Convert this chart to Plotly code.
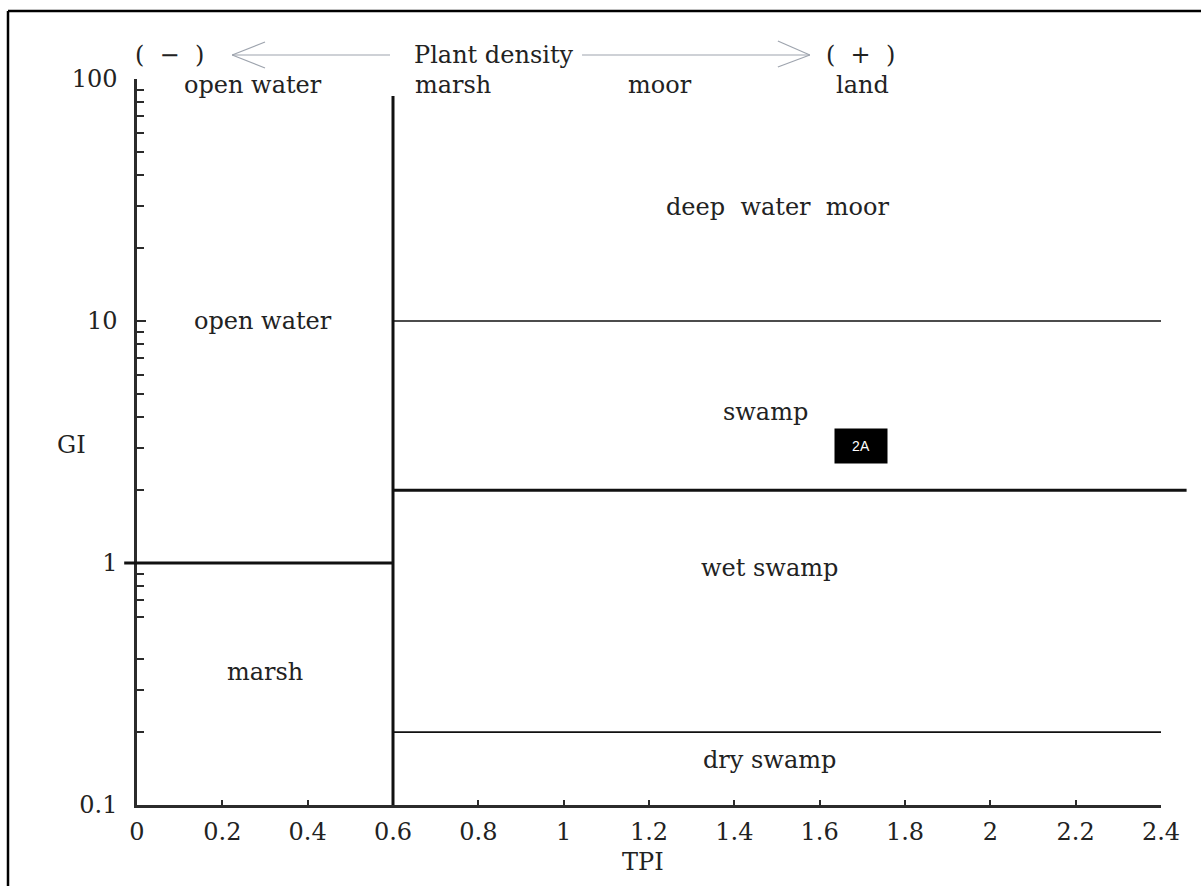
import math
import plotly.graph_objects as go

# ---------------- data ----------------
X_RANGE = [0, 2.4]
Y_RANGE_GI = [0.1, 100]
x_tickvals = [0, 0.2, 0.4, 0.6, 0.8, 1.0, 1.2, 1.4, 1.6, 1.8, 2.0, 2.2, 2.4]
x_ticktext = ["0", "0.2", "0.4", "0.6", "0.8", "1", "1.2", "1.4", "1.6", "1.8", "2", "2.2", "2.4"]
y_tickvals = [0.1, 1, 10, 100]
y_ticktext = ["0.1", "1", "10", "100"]
y_minor = [0.2, 0.3, 0.4, 0.6, 0.7, 0.8, 0.9,
           2, 3, 4, 5, 6, 7, 8, 9,
           20, 30, 40, 50, 60, 70, 80, 90]

# boundary lines: (tpi_start, tpi_end, gi_start, gi_end, weight)
boundary_tpi0 = [0.6, -0.03, 0.6, 0.6, 0.6]
boundary_tpi1 = [0.6, 0.6, 2.4, 2.46, 2.4]
boundary_gi0 = [0.1, 1, 10, 2, 0.2]
boundary_gi1 = [85, 1, 10, 2, 0.2]
boundary_w = [3, 3, 1.6, 3, 1.6]

# region labels (TPI, GI)
region_text = ["deep  water  moor", "open water", "swamp", "wet swamp", "marsh", "dry swamp"]
region_tpi = [1.5, 0.295, 1.474, 1.483, 0.3, 1.483]
region_gi = [29.6, 10.0, 4.2, 0.95, 0.355, 0.153]

# header labels (TPI, GI above the axis)
header_text = ["open water", "marsh", "moor", "land"]
header_tpi = [0.272, 0.647, 1.226, 1.70]
header_anchor = ["center", "left", "center", "center"]
header_gi = 94.4

FONT = "DejaVu Serif"
FS = 24
TXT = "#222222"
AX = "#2b2b2b"

W, H = 1201, 886
ML, MR, MT, MB = 137, 40, 79, 81
PW, PH = W - ML - MR, H - MT - MB


def px_x(p):
    return (p - ML) / PW


def px_y(p):
    return (H - MB - p) / PH


def tpi_paper(v):
    return (v - X_RANGE[0]) / (X_RANGE[1] - X_RANGE[0])


fig = go.Figure()
# invisible trace to establish axes
fig.add_trace(go.Scatter(x=X_RANGE, y=Y_RANGE_GI, mode="markers",
                         marker=dict(opacity=0), hoverinfo="skip", showlegend=False))

shapes = []
for t0, t1, g0, g1, w in zip(boundary_tpi0, boundary_tpi1, boundary_gi0, boundary_gi1, boundary_w):
    shapes.append(dict(type="line", xref="paper", yref="y",
                       x0=tpi_paper(t0), x1=tpi_paper(t1), y0=g0, y1=g1,
                       line=dict(color="#111111", width=w), layer="above"))

# plant density arrows
ARC = "#9ea4ae"
ay = px_y(55)
shapes += [
    dict(type="line", xref="x", yref="paper", x0=0.223, x1=0.593, y0=ay, y1=ay, line=dict(color=ARC, width=1.2)),
    dict(type="line", xref="x", yref="paper", x0=0.223, x1=0.300, y0=ay, y1=px_y(42), line=dict(color=ARC, width=1.2)),
    dict(type="line", xref="x", yref="paper", x0=0.223, x1=0.300, y0=ay, y1=px_y(68), line=dict(color=ARC, width=1.2)),
    dict(type="line", xref="x", yref="paper", x0=1.043, x1=1.577, y0=ay, y1=ay, line=dict(color=ARC, width=1.2)),
    dict(type="line", xref="x", yref="paper", x0=1.577, x1=1.502, y0=ay, y1=px_y(41), line=dict(color=ARC, width=1.2)),
    dict(type="line", xref="x", yref="paper", x0=1.577, x1=1.502, y0=ay, y1=px_y(67), line=dict(color=ARC, width=1.2)),
]
# outer frame (top and left)
shapes += [
    dict(type="line", xref="paper", yref="paper", x0=px_x(8), x1=px_x(1201), y0=px_y(11), y1=px_y(11),
         line=dict(color="#000000", width=2.5)),
    dict(type="line", xref="paper", yref="paper", x0=px_x(8), x1=px_x(8), y0=px_y(11), y1=px_y(886),
         line=dict(color="#000000", width=2.5)),
]

ann = []
for t, x, g in zip(region_text, region_tpi, region_gi):
    ann.append(dict(text=t, x=x, y=math.log10(g), xref="x", yref="y", showarrow=False,
                    yanchor="middle", font=dict(family=FONT, size=FS, color=TXT)))
for t, x, a in zip(header_text, header_tpi, header_anchor):
    ann.append(dict(text=t, x=x, y=math.log10(header_gi), xref="x", yref="y", showarrow=False,
                    xanchor=a, yanchor="middle", font=dict(family=FONT, size=FS, color=TXT)))
ann += [
    dict(text="(  \u2212  )", x=0.077, y=ay, xref="x", yref="paper", showarrow=False, yanchor="middle",
         font=dict(family=FONT, size=FS, color=TXT)),
    dict(text="Plant density", x=0.645, y=ay, xref="x", yref="paper", showarrow=False, xanchor="left",
         yanchor="middle", font=dict(family=FONT, size=FS, color=TXT)),
    dict(text="(  +  )", x=1.695, y=ay, xref="x", yref="paper", showarrow=False, yanchor="middle",
         font=dict(family=FONT, size=FS, color=TXT)),
    dict(text="GI", x=px_x(55), y=math.log10(3.07), xref="paper", yref="y", showarrow=False,
         yanchor="middle", font=dict(family=FONT, size=FS, color=TXT)),
    dict(text="TPI", x=1.186, y=px_y(862), xref="x", yref="paper", showarrow=False, yanchor="middle",
         font=dict(family=FONT, size=FS, color=TXT)),
    dict(text="2A", x=1.697, y=math.log10(3.04), xref="x", yref="y", showarrow=False,
         bgcolor="#000000", width=50, height=32, yanchor="middle",
         font=dict(family="Liberation Sans", size=14, color="#ffffff")),
]

fig.update_layout(
    width=W, height=H,
    margin=dict(l=ML, r=MR, t=MT, b=MB),
    paper_bgcolor="white", plot_bgcolor="white",
    showlegend=False,
    shapes=shapes, annotations=ann,
    xaxis=dict(range=X_RANGE, tickvals=x_tickvals, ticktext=x_ticktext,
               showgrid=False, zeroline=False, showline=True, linecolor=AX, linewidth=2.5,
               ticks="inside", ticklen=5, tickwidth=2, tickcolor=AX,
               tickfont=dict(family=FONT, size=FS, color=TXT), ticklabelstandoff=3),
    yaxis=dict(type="log", range=[math.log10(Y_RANGE_GI[0]), math.log10(Y_RANGE_GI[1])],
               tickvals=y_tickvals, ticktext=y_ticktext,
               showgrid=False, zeroline=False, showline=True, linecolor=AX, linewidth=2.5,
               ticks="inside", ticklen=9, tickwidth=2, tickcolor=AX,
               minor=dict(tickvals=y_minor, ticks="inside", ticklen=7, tickwidth=2, tickcolor=AX,
                          showgrid=False),
               tickfont=dict(family=FONT, size=FS, color=TXT), ticklabelstandoff=12),
)

fig.write_html("out.html")
